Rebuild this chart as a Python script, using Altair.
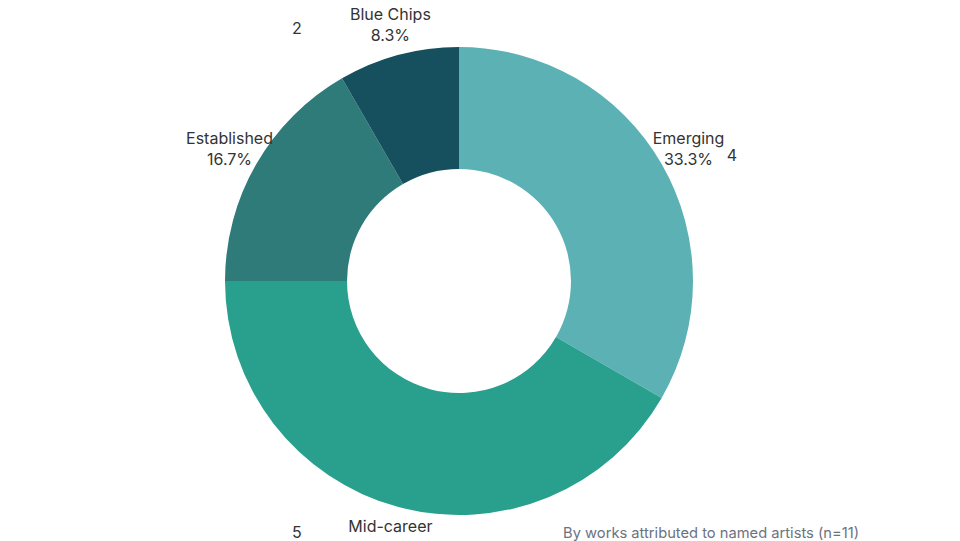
import altair as alt
import pandas as pd

categories = ["Emerging", "Mid-career", "Established", "Blue Chips"]
counts = [4, 5, 2, 1]
colors = ["#5BB1B4", "#28A08D", "#2E7B79", "#164F5E"]
caption = "By works attributed to named artists (n=11)"

total = sum(counts)
df = pd.DataFrame({
    "category": categories,
    "count": counts,
    "idx": list(range(len(categories))),
})
df["label"] = [f"{c}\n{v / total * 100:.1f}%" for c, v in zip(categories, counts)]

base = alt.Chart(df).encode(
    theta=alt.Theta("count:Q", stack=True),
    order=alt.Order("idx:Q"),
)

arcs = base.mark_arc(innerRadius=112, outerRadius=234).encode(
    color=alt.Color("category:N", scale=alt.Scale(domain=categories, range=colors), legend=None)
)

labels = base.mark_text(radius=265, font="Inter", fontSize=16, color="#333333",
                        lineBreak="\n", lineHeight=21, baseline="middle", align="center",
                        dy=-10).encode(
    text="label:N"
)

count_labels = alt.Chart(df).transform_filter(
    alt.datum.category != "Blue Chips"
).mark_text(radius=300, font="Inter", fontSize=16, color="#333333",
            baseline="middle", align="center").encode(
    theta=alt.Theta("count:Q", stack=True),
    order=alt.Order("idx:Q"),
    text="count:Q",
)

chart = alt.layer(arcs, labels, count_labels).resolve_scale(theta="independent").properties(
    width=800,
    height=468,
    autosize=alt.AutoSizeParams(type="none"),
    padding={"left": 51, "top": 39, "right": 93, "bottom": 45},
    title=alt.TitleParams(caption, orient="bottom", anchor="end", offset=-30, frame="group",
                          font="Inter", fontSize=14.7, fontWeight="normal", color="#6B7280"),
).configure_view(stroke=None)

chart.save("out.html", embed_options={"renderer": "svg", "actions": False})
